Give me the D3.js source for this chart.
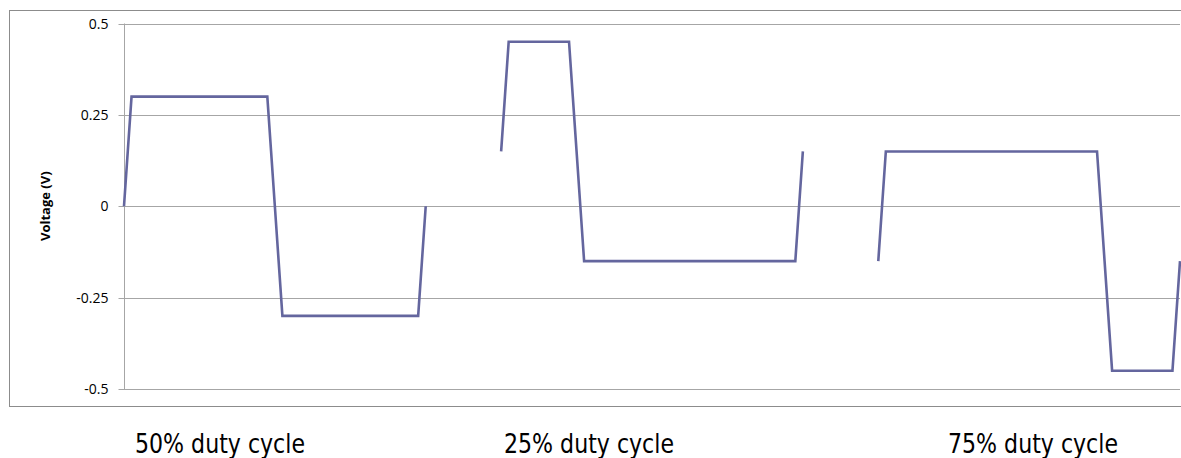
<!DOCTYPE html>
<html>
<head>
<meta charset="utf-8">
<script src="https://cdn.jsdelivr.net/npm/d3@7/dist/d3.min.js"></script>
<style>
  html, body { margin: 0; padding: 0; background: #fff; }
  svg { display: block; }
</style>
</head>
<body>
<svg id="chart" width="1181" height="458"></svg>
<script>
// Square-wave samples for three duty cycles (time in sample units, voltage in V)
const time50  = [0, 1, 2, 38, 39, 40, 41, 42, 78, 79, 80];
const volts50 = [0, 0.15, 0.3, 0.3, 0.15, 0, -0.15, -0.3, -0.3, -0.15, 0];

const time25  = [100, 101, 102, 118, 119, 120, 121, 122, 178, 179, 180];
const volts25 = [0.15, 0.3, 0.45, 0.45, 0.3, 0.15, 0, -0.15, -0.15, 0, 0.15];

const time75  = [200, 201, 202, 258, 259, 260, 261, 262, 278, 279, 280];
const volts75 = [-0.15, 0, 0.15, 0.15, 0, -0.15, -0.3, -0.45, -0.45, -0.3, -0.15];

const yTicks = [-0.5, -0.25, 0, 0.25, 0.5];
const yTickLabels = ["-0.5", "-0.25", "0", "0.25", "0.5"];

const cycleLabels = ["50% duty cycle", "25% duty cycle", "75% duty cycle"];

const svg = d3.select("#chart");

const plot = { left: 124, right: 1180, top: 23.5, bottom: 389 };

const x = d3.scaleLinear().domain([0, 280]).range([plot.left, plot.right]);
const y = d3.scaleLinear().domain([-0.5, 0.5]).range([plot.bottom, plot.top]);

// chart frame
svg.append("rect")
  .attr("x", 9.5).attr("y", 10.5)
  .attr("width", 1190).attr("height", 396)
  .attr("fill", "none").attr("stroke", "#8c8c8c").attr("stroke-width", 1);

// horizontal gridlines
svg.append("g")
  .selectAll("line")
  .data(yTicks)
  .join("line")
  .attr("x1", plot.left).attr("x2", plot.right)
  .attr("y1", d => Math.round(y(d)) + 0.5).attr("y2", d => Math.round(y(d)) + 0.5)
  .attr("stroke", "#a6a6a6").attr("stroke-width", 1);

// y axis
const yAxis = d3.axisLeft(y)
  .tickValues(yTicks)
  .tickFormat((d, i) => yTickLabels[i])
  .tickSize(6)
  .tickPadding(10);

const ga = svg.append("g")
  .attr("transform", `translate(${plot.left + 0.5},0)`)
  .call(yAxis);
ga.select(".domain").remove();
ga.append("line")
  .attr("x1", 0).attr("x2", 0)
  .attr("y1", plot.top).attr("y2", plot.bottom + 1)
  .attr("stroke", "#a6a6a6");
ga.selectAll(".tick line").attr("stroke", "#a6a6a6");
ga.selectAll(".tick").attr("transform", d => `translate(0,${Math.round(y(d)) + 0.5})`);
ga.selectAll(".tick text")
  .attr("fill", "#000")
  .style("font-family", "'Open Sans', 'Liberation Sans', Arial, sans-serif")
  .style("font-size", "14px");

// y axis title
svg.append("text")
  .attr("transform", `translate(50,${(plot.top + plot.bottom) / 2}) rotate(-90)`)
  .attr("text-anchor", "middle")
  .style("font-family", "'Open Sans', 'Liberation Sans', Arial, sans-serif")
  .style("font-size", "13px")
  .style("font-weight", "bold")
  .text("Voltage (V)");

// waveform segments
const segments = [
  time50.map((t, i) => [t, volts50[i]]),
  time25.map((t, i) => [t, volts25[i]]),
  time75.map((t, i) => [t, volts75[i]])
];

const line = d3.line()
  .x(d => x(d[0]))
  .y(d => y(d[1]));

svg.append("g")
  .selectAll("path")
  .data(segments)
  .join("path")
  .attr("d", line)
  .attr("fill", "none")
  .attr("stroke", "#64669e")
  .attr("stroke-width", 2.6)
  .attr("stroke-linejoin", "miter");

// captions under each waveform
const captionX = [135, 504, 948];
svg.append("g")
  .selectAll("text")
  .data(cycleLabels)
  .join("text")
  .attr("x", (d, i) => captionX[i])
  .attr("y", 453)
  .attr("textLength", 170)
  .attr("lengthAdjust", "spacingAndGlyphs")
  .style("font-family", "'DejaVu Sans Condensed', 'Liberation Sans Narrow', 'DejaVu Sans', sans-serif")
  .style("font-stretch", "condensed")
  .style("font-size", "27px")
  .attr("fill", "#000")
  .text(d => d);
</script>
</body>
</html>
